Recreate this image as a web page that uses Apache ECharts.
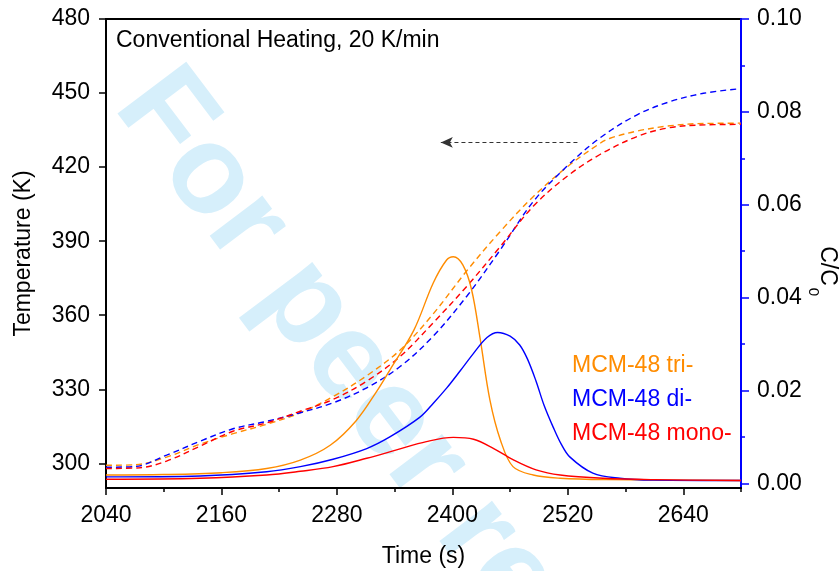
<!DOCTYPE html>
<html>
<head>
<meta charset="utf-8">
<script src="https://cdn.jsdelivr.net/npm/echarts@6/dist/echarts.min.js"></script>
<style>
  html, body { margin: 0; padding: 0; background: #fff; }
  #chart { width: 839px; height: 571px; }
</style>
</head>
<body>
<div id="chart"></div>
<script>
// time (s) vs temperature (K), dashed curves
var triTemp = [[2040,299.2],[2070,299.4],[2103,302.5],[2138,307.8],[2172,312.0],[2207,315.8],[2242,320.5],[2276,327.0],[2311,335.5],[2346,346.0],[2380,360.5],[2415,378.0],[2450,394.0],[2484,408.0],[2519,420.0],[2553,429.5],[2564,431.7],[2592,434.6],[2623,436.6],[2654,437.6],[2700,437.8]];
var diTemp = [[2040,298.4],[2070,298.7],[2103,303.3],[2138,309.0],[2172,314.0],[2207,317.0],[2242,320.5],[2276,324.5],[2311,330.6],[2346,339.3],[2380,351.5],[2415,367.7],[2450,386.6],[2484,406.0],[2519,420.3],[2553,431.7],[2592,441.2],[2626,446.5],[2661,449.9],[2700,451.8]];
var monoTemp = [[2040,297.9],[2075,298.2],[2103,300.9],[2138,307.0],[2172,313.0],[2207,316.4],[2242,321.1],[2276,325.9],[2311,333.3],[2346,343.4],[2380,356.9],[2415,371.7],[2450,387.9],[2484,404.1],[2519,416.2],[2553,425.0],[2592,432.4],[2623,435.8],[2654,437.0],[2700,437.3]];

// time (s) vs C/C0, solid curves
var triC = [[2040,0.0018],[2100,0.0019],[2160,0.0023],[2207,0.0032],[2242,0.0050],[2273,0.0082],[2300,0.0135],[2321,0.0197],[2335,0.0244],[2360,0.0330],[2380,0.0431],[2394,0.0481],[2401,0.0488],[2411,0.0470],[2420,0.0417],[2429,0.0310],[2439,0.0180],[2450,0.0093],[2463,0.0036],[2484,0.0018],[2512,0.0011],[2560,0.0008],[2700,0.0006]];
var diC = [[2040,0.0014],[2138,0.0016],[2207,0.0025],[2242,0.0036],[2276,0.0052],[2311,0.0075],[2335,0.0100],[2366,0.0142],[2380,0.0172],[2394,0.0205],[2408,0.0242],[2422,0.0280],[2436,0.0314],[2447,0.0325],[2460,0.0317],[2470,0.0298],[2478,0.0268],[2487,0.0220],[2495,0.0170],[2505,0.0120],[2513,0.0085],[2522,0.0057],[2546,0.0022],[2574,0.0011],[2609,0.0007],[2700,0.0006]];
var monoC = [[2040,0.0009],[2138,0.0011],[2207,0.0018],[2242,0.0026],[2276,0.0036],[2311,0.0054],[2342,0.0072],[2373,0.0090],[2401,0.0099],[2422,0.0095],[2443,0.0075],[2463,0.0051],[2487,0.0029],[2512,0.0018],[2557,0.0011],[2610,0.0008],[2700,0.0006]];

var names = ['MCM-48 tri-', 'MCM-48 di-', 'MCM-48 mono-'];
var colors = ['#ff8c00', '#0000ff', '#ff0000'];

var timeTicks = [2040, 2160, 2280, 2400, 2520, 2640];
var timeMinor = [2100, 2220, 2340, 2460, 2580, 2700];
var tempTicks = [300, 330, 360, 390, 420, 450, 480];
var concTicks = [0, 0.02, 0.04, 0.06, 0.08, 0.1];
var concMinor = [0.01, 0.03, 0.05, 0.07, 0.09];

// arrow pointing to the temperature axis
var arrowFrom = [2530, 430];
var arrowTo = [2388, 430];

var font = 'Liberation Sans';
var fs = 23;
var chart = echarts.init(document.getElementById('chart'));

var tempSeries = [triTemp, diTemp, monoTemp].map(function (d, i) {
  return {
    name: names[i], type: 'line', data: d, xAxisIndex: 0, yAxisIndex: 0,
    showSymbol: false, smooth: 0.35, color: colors[i],
    lineStyle: { width: 1.4, type: [6, 4], color: colors[i] }
  };
});
var concSeries = [triC, diC, monoC].map(function (d, i) {
  return {
    name: names[i], type: 'line', data: d, xAxisIndex: 0, yAxisIndex: 1,
    showSymbol: false, smooth: 0.35, color: colors[i],
    lineStyle: { width: 1.4, color: colors[i] }
  };
});
tempSeries[0].markLine = {
  silent: true, symbol: ['none', 'arrow'], symbolSize: [8, 12],
  label: { show: false },
  lineStyle: { type: [4, 3], color: '#333', width: 1.2 },
  data: [[{ coord: arrowFrom }, { coord: arrowTo }]]
};

var option = {
  animation: false,
  textStyle: { fontFamily: font },
  title: {
    text: 'Conventional Heating, 20 K/min', left: 111, top: 24,
    textStyle: { fontFamily: font, fontSize: fs, fontWeight: 'normal', color: '#000' }
  },
  legend: {
    orient: 'vertical', left: 562, top: 349, itemWidth: 0, itemHeight: 0, itemGap: 11,
    selectedMode: false, icon: 'none',
    textStyle: { fontFamily: font, fontSize: fs },
    data: names.map(function (n, i) {
      return { name: n, icon: 'none', textStyle: { color: colors[i] } };
    })
  },
  grid: {
    left: 106, right: 98, top: 19, bottom: 83, containLabel: false, outerBoundsMode: 'none',
    show: true, borderColor: '#000', borderWidth: 2
  },
  graphic: [
    {
      type: 'text', x: 140, y: 86, rotation: -53 * Math.PI / 180, z: -10, silent: true,
      style: {
        text: 'For peer review', fill: '#d6effb', font: 'bold 125px "Liberation Sans"',
        textAlign: 'left', textVerticalAlign: 'middle'
      }
    },
    {
      type: 'text', x: 827, y: 266, rotation: -Math.PI / 2,
      style: { text: 'C/C', fill: '#000', font: fs + 'px "Liberation Sans"', textAlign: 'center', textVerticalAlign: 'middle' }
    },
    {
      type: 'text', x: 813, y: 292, rotation: -Math.PI / 2,
      style: { text: '0', fill: '#000', font: '15px "Liberation Sans"', textAlign: 'center', textVerticalAlign: 'middle' }
    }
  ],
  xAxis: [
    {
      type: 'value', min: 2040, max: 2700, position: 'bottom',
      name: 'Time (s)', nameLocation: 'middle', nameGap: 57,
      nameTextStyle: { fontFamily: font, fontSize: fs, color: '#000' },
      axisLine: { onZero: false, lineStyle: { color: '#000', width: 2 } },
      axisTick: { customValues: timeTicks, length: 7, lineStyle: { color: '#000', width: 1.5 } },
      axisLabel: {
        customValues: timeTicks, fontSize: fs, color: '#000', margin: 16,
        formatter: function (v) { return String(v); }
      },
      splitLine: { show: false }
    },
    {
      type: 'value', min: 2040, max: 2700, position: 'bottom',
      axisLine: { show: false, onZero: false },
      axisTick: { customValues: timeMinor, length: 4, lineStyle: { color: '#000', width: 1.5 } },
      axisLabel: { show: false },
      splitLine: { show: false }
    }
  ],
  yAxis: [
    {
      type: 'value', min: 290, max: 480, position: 'left',
      name: 'Temperature (K)', nameLocation: 'middle', nameGap: 71,
      nameTextStyle: { fontFamily: font, fontSize: fs, color: '#000' },
      axisLine: { show: true, onZero: false, lineStyle: { color: '#000', width: 2 } },
      axisTick: { show: true, customValues: tempTicks, length: 7, lineStyle: { color: '#000', width: 1.5 } },
      axisLabel: { customValues: tempTicks, fontSize: fs, color: '#000', margin: 16 },
      splitLine: { show: false }
    },
    {
      type: 'value', min: -0.001, max: 0.1, position: 'right',
      axisLine: { show: true, onZero: false, lineStyle: { color: '#0000ff', width: 2 } },
      axisTick: { show: true, customValues: concTicks, length: 8, lineStyle: { color: '#0000ff', width: 1.5 } },
      axisLabel: {
        customValues: concTicks, fontSize: fs, color: '#000', margin: 16,
        formatter: function (v) { return v.toFixed(2); }
      },
      splitLine: { show: false }
    },
    {
      type: 'value', min: -0.001, max: 0.1, position: 'right',
      axisLine: { show: false, onZero: false },
      axisTick: { show: true, customValues: concMinor, length: 4, lineStyle: { color: '#0000ff', width: 1.5 } },
      axisLabel: { show: false },
      splitLine: { show: false }
    }
  ],
  series: tempSeries.concat(concSeries)
};

chart.setOption(option);
</script>
</body>
</html>
